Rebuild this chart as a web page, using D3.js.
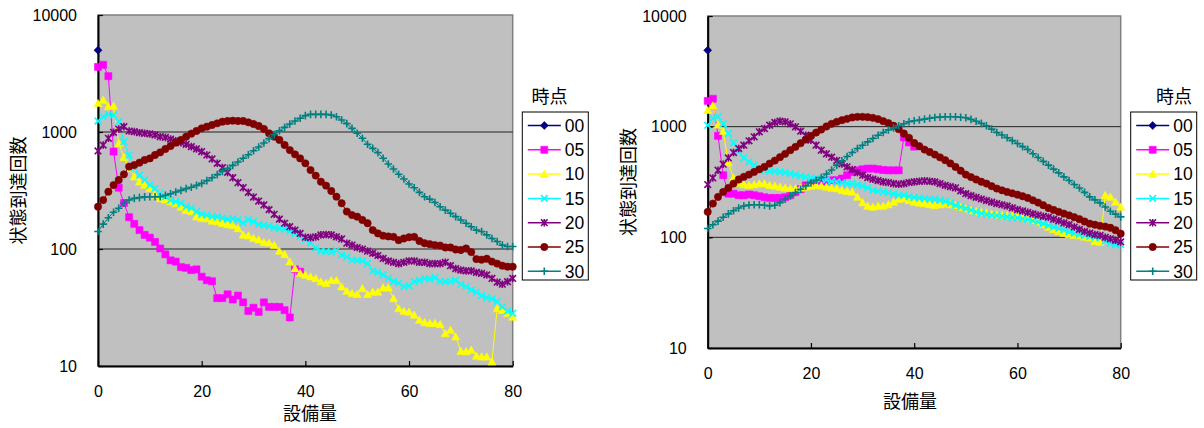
<!DOCTYPE html>
<html>
<head>
<meta charset="utf-8">
<script src="https://cdn.jsdelivr.net/npm/d3@7"></script>
<style>
body { margin: 0; background: #fff; }
svg text { font-family: "Liberation Sans", Arial, sans-serif; fill: #000; }
svg text.jp { font-family: "Noto Sans CJK JP", sans-serif; }
</style>
</head>
<body>
<svg id="chart" width="1204" height="428"></svg>
<script>
// 系列の定義
const seriesNames = ["00", "05", "10", "15", "20", "25", "30"];
const seriesColors = ["#000080", "#FF00FF", "#FFFF00", "#00FFFF", "#800080", "#800000", "#008080"];
const seriesShapes = ["diamond", "square", "triangle", "x", "star", "circle", "plus"];
const yTickValues = [10, 100, 1000, 10000];
const xTickValues = [0, 20, 40, 60, 80];
const legendTitle = "時点";
const xTitle = "設備量";
const yTitle = "状態到達回数";

// 左のグラフ (設備量 0..80)
const left00 = [5000];
const left05 = [3600, 3750, 3000, 680, 334, 247, 187, 164, 145, 132, 125, 115, 101, 90, 80, 78, 70, 69, 66, 67,
    58, 54, 53, 38, 38, 41, 37, 40, 35, 29.5, 31.5, 29, 35, 32, 32, 32, 30, 26, 67, 64];
const left10 = [1760, 1880, 1650, 1670, 800, 610, 490, 415, 376, 352, 330, 290, 270, 264, 254, 245, 229, 215, 209, 189,
    183, 182, 174, 172, 166, 162, 160, 150, 132, 130, 124, 120, 114, 113, 108, 96, 90, 78, 68, 62,
    60, 58, 56, 52.6, 51, 54, 54, 47.6, 43.8, 41.8, 41, 46, 41, 43, 43, 46.7, 46.7, 37.8, 31, 29.5,
    29, 27.3, 24.7, 23.6, 23.2, 23.2, 22.7, 19, 20.3, 17.8, 13.4, 13.3, 13.7, 12.2, 12, 12, 10.9, 31, 30, 28.2, 26.3];
const left15 = [1240, 1350, 1413, 1400, 1225, 826, 635, 489, 428, 389, 352, 330, 299, 280, 262, 254, 246, 230, 223, 209,
    198, 195, 189, 189, 184, 180, 182, 177, 167, 178, 171, 162, 160, 157, 152, 150, 148, 142, 136, 128,
    120, 112, 102, 96, 95, 94, 97.5, 89, 85.5, 80.5, 80, 79, 75, 65, 63, 60, 56, 53, 51, 47.7,
    48.5, 52.6, 54, 56, 55.5, 57, 53, 52.6, 53, 54, 50, 47.7, 44.7, 42.7, 40, 38.5, 37.5, 35.5, 32, 29.5, 28.2];
const left20 = [689, 774, 883, 993, 1061, 1111, 1020, 1007, 986, 975, 962, 943, 912, 899, 871, 843, 811, 785, 750, 716,
    680, 636, 588, 540, 496, 452, 407, 369, 334, 305, 278, 257, 238, 217, 198, 180, 166, 155, 145, 136,
    126, 125, 127, 132, 133, 132, 127, 122, 112, 108, 103, 100, 96, 92, 88, 83, 79, 77, 75, 77,
    79, 79, 77, 77, 75, 75, 75, 77, 72, 68, 66, 65, 65, 63, 62, 60, 56, 52, 50, 52.6, 56];
const left25 = [230, 262, 309, 352, 389, 435, 506, 522, 547, 576, 595, 636, 670, 716, 759, 811, 855, 912, 968, 1020,
    1075, 1111, 1148, 1186, 1225, 1242, 1250, 1242, 1242, 1210, 1170, 1125, 1061, 975, 912, 855, 774, 701, 644, 595,
    540, 473, 424, 376, 348, 313, 280, 246, 209, 195, 189, 177, 166, 145, 136, 130, 128, 127, 119, 123,
    126, 127, 117, 112, 110, 108, 107, 103, 103, 99, 98, 101, 94, 82, 81, 82.5, 78, 75, 72, 70.6, 70.6];
const left30 = [141, 163, 185, 206, 223, 246, 262, 271, 275, 279, 280, 280, 280, 288, 297, 307, 317, 328, 337, 350,
    364, 384, 407, 432, 461, 489, 519, 554, 596, 640, 692, 744, 805, 877, 949, 1026, 1096, 1171, 1242, 1309,
    1380, 1415, 1415, 1415, 1415, 1396, 1352, 1267, 1179, 1075, 975, 883, 785, 725, 666, 596, 532, 483, 435, 397,
    359, 334, 305, 280, 267, 250, 230, 215, 202, 189, 177, 166, 155, 145, 141, 132, 123, 116, 108, 105, 105];

// 右のグラフ
const right00 = [4900];
const right05 = [1710, 1786, 826, 364, 248, 248, 240, 240, 244, 240, 235, 230, 227, 227, 227, 230, 240, 257, 272, 295,
    310, 317, 317, 321, 328, 328, 340, 364, 390, 403, 412, 418, 418, 412, 406, 403, 403, 403, 800, 720, 660];
const right10 = [1410, 1545, 1040, 910, 474, 344, 310, 300, 296, 300, 306, 306, 296, 292, 286, 280, 276, 276, 280, 286,
    292, 296, 292, 286, 280, 276, 266, 261, 257, 232, 206, 192, 188, 192, 192, 198, 209, 221, 224, 216,
    209, 205, 202, 198, 195, 198, 202, 198, 195, 188, 182, 176, 172, 169, 167, 163, 160, 159, 158, 157,
    156, 152, 148, 143, 138, 131, 124, 118, 113, 109, 106, 105, 104, 101, 99, 92, 91, 240, 232, 209, 188];
const right15 = [1032, 1190, 1230, 1060, 870, 715, 592, 522, 481, 449, 418, 401, 396, 396, 390, 385, 377, 369, 359, 352,
    344, 340, 340, 331, 321, 317, 313, 306, 306, 300, 292, 280, 266, 261, 257, 254, 247, 240, 240, 233,
    228, 226, 224, 222, 221, 216, 212, 204, 195, 188, 182, 176, 170, 165, 161, 159, 158, 155, 153, 151,
    150, 147, 145, 141, 138, 133, 128, 124, 120, 116, 112, 109, 106, 104, 102, 100, 99, 93, 88, 86, 86];
const right20 = [300, 344, 404, 458, 522, 584, 634, 680, 745, 809, 898, 962, 1032, 1091, 1122, 1107, 1061, 996, 910, 837,
    755, 680, 613, 568, 530, 494, 461, 434, 410, 385, 364, 347, 335, 326, 317, 313, 306, 302, 306, 313,
    317, 321, 324, 321, 317, 306, 295, 287, 280, 263, 248, 238, 230, 222, 215, 208, 202, 197, 192, 185,
    178, 173, 168, 163, 159, 155, 152, 146, 141, 135, 130, 124, 118, 113, 109, 106, 104, 100, 97, 94, 91];
const right25 = [170, 202, 232, 257, 279, 306, 333, 352, 369, 390, 412, 433, 464, 494, 530, 568, 613, 657, 709, 765,
    826, 885, 942, 1004, 1061, 1107, 1145, 1178, 1211, 1228, 1228, 1219, 1202, 1170, 1122, 1077, 1019, 949, 867, 793,
    712, 665, 621, 590, 560, 528, 498, 465, 433, 400, 369, 350, 333, 318, 306, 290, 276, 266, 257, 250,
    243, 235, 227, 216, 206, 195, 184, 177, 170, 164, 158, 152, 146, 139, 133, 130, 127, 125, 122, 116, 108];
const right30 = [120, 130, 140, 152, 163, 174, 184, 192, 196, 197, 197, 195, 192, 195, 206, 221, 237, 254, 272, 292,
    310, 328, 347, 374, 406, 449, 491, 537, 584, 634, 680, 729, 782, 837, 885, 936, 975, 1019, 1061, 1107,
    1130, 1150, 1170, 1190, 1211, 1220, 1228, 1230, 1228, 1218, 1202, 1165, 1121, 1070, 1019, 950, 885, 840, 793, 748,
    704, 660, 621, 570, 526, 486, 449, 413, 382, 352, 326, 300, 279, 255, 232, 218, 205, 188, 172, 162, 153];

const panels = [
    {
        series: [left00, left05, left10, left15, left20, left25, left30],
        left: 98, right: 512.7, top: 15, bottom: 366,
        yTitleX: 19, xTitleY: 414, xTitleX: 310,
        legendX: 522.3, legendTitleX: 549.5
    },
    {
        series: [right00, right05, right10, right15, right20, right25, right30],
        left: 707.7, right: 1120.7, top: 16, bottom: 348,
        yTitleX: 628.5, xTitleY: 401.5, xTitleX: 910,
        legendX: 1130.7, legendTitleX: 1174
    }
];

function markerPath(shape) {
    switch (shape) {
        case "diamond": return "M0,-4L4,0L0,4L-4,0Z";
        case "square": return "M-3.5,-3.5H3.5V3.5H-3.5Z";
        case "triangle": return "M0,-3.9L4,3.3L-4,3.3Z";
        case "circle": return d3.symbol(d3.symbolCircle, 42)();
        case "x": return "M-3.3,-3.3L3.3,3.3M-3.3,3.3L3.3,-3.3";
        case "star": return "M-3.3,-3.3L3.3,3.3M-3.3,3.3L3.3,-3.3M0,-3.8L0,3.8";
        case "plus": return "M-3.8,0L3.8,0M0,-3.8L0,3.8";
    }
}

function drawMarker(g, shape, color, x, y) {
    const filled = ["diamond", "square", "triangle", "circle"].includes(shape);
    g.append("path")
        .attr("transform", `translate(${x},${y})`)
        .attr("d", markerPath(shape))
        .attr("fill", filled ? color : "none")
        .attr("stroke", color)
        .attr("stroke-width", filled ? 0.6 : 1.6);
}

function drawPanel(svg, p) {
    const x = d3.scaleLinear().domain([0, 80]).range([p.left, p.right]);
    const y = d3.scaleLog().domain([10, 10000]).range([p.bottom, p.top]);

    // 背景
    svg.append("rect")
        .attr("x", p.left).attr("y", p.top)
        .attr("width", p.right - p.left).attr("height", p.bottom - p.top)
        .attr("fill", "#C0C0C0")
        .attr("stroke", "#808080")
        .attr("stroke-width", 1.5);

    // 目盛線
    svg.selectAll(null)
        .data([100, 1000])
        .enter()
        .append("line")
        .attr("x1", p.left).attr("x2", p.right)
        .attr("y1", d => y(d)).attr("y2", d => y(d))
        .attr("stroke", "#222")
        .attr("stroke-width", 1);

    // 軸
    const yAxis = d3.axisLeft(y).tickValues(yTickValues).tickFormat(d3.format("d")).tickSizeInner(-5).tickSizeOuter(0).tickPadding(21);
    const gy = svg.append("g").attr("transform", `translate(${p.left},0)`).call(yAxis);
    const xAxis = d3.axisBottom(x).tickValues(xTickValues).tickSizeInner(-5).tickSizeOuter(0).tickPadding(20);
    const gx = svg.append("g").attr("transform", `translate(0,${p.bottom})`).call(xAxis);
    [gx, gy].forEach(g => {
        g.select(".domain").attr("stroke", "#000").attr("stroke-width", 2);
        g.selectAll(".tick line").attr("stroke", "#000").attr("stroke-width", 1.2);
        g.selectAll(".tick text").attr("font-size", 16).attr("font-family", "'Liberation Sans', Arial, sans-serif").attr("fill", "#000");
    });

    // 系列
    const line = d3.line().x((d, i) => x(i)).y(d => y(d));
    p.series.forEach((values, k) => {
        const g = svg.append("g");
        g.append("path")
            .attr("d", line(values))
            .attr("fill", "none")
            .attr("stroke", seriesColors[k])
            .attr("stroke-width", 1);
        values.forEach((v, i) => drawMarker(g, seriesShapes[k], seriesColors[k], x(i), y(v)));
    });

    // 軸ラベル
    svg.append("text")
        .attr("class", "jp")
        .attr("x", p.xTitleX).attr("y", p.xTitleY)
        .attr("dy", "0.35em")
        .attr("text-anchor", "middle")
        .attr("font-size", 18)
        .text(xTitle);
    svg.append("text")
        .attr("class", "jp")
        .attr("transform", `translate(${p.yTitleX},${(p.top + p.bottom) / 2}) rotate(-90)`)
        .attr("dy", "0.35em")
        .attr("text-anchor", "middle")
        .attr("font-size", 18)
        .text(yTitle);

    // 凡例
    svg.append("text")
        .attr("class", "jp")
        .attr("x", p.legendTitleX).attr("y", 96.5)
        .attr("dy", "0.35em")
        .attr("text-anchor", "middle")
        .attr("font-size", 18)
        .text(legendTitle);
    svg.append("rect")
        .attr("x", p.legendX).attr("y", 112)
        .attr("width", 66).attr("height", 168)
        .attr("fill", "#fff")
        .attr("stroke", "#000")
        .attr("stroke-width", 1);
    seriesNames.forEach((name, k) => {
        const ly = 125.5 + k * 24.3;
        const g = svg.append("g");
        g.append("line")
            .attr("x1", p.legendX + 5.5).attr("x2", p.legendX + 38.5)
            .attr("y1", ly).attr("y2", ly)
            .attr("stroke", seriesColors[k])
            .attr("stroke-width", 1.5);
        drawMarker(g, seriesShapes[k], seriesColors[k], p.legendX + 22, ly);
        g.append("text")
            .attr("x", p.legendX + 42.5).attr("y", ly)
            .attr("dy", "0.36em")
            .attr("font-size", 17.5)
            .text(name);
    });
}

const svg = d3.select("#chart");
panels.forEach(p => drawPanel(svg, p));
</script>
</body>
</html>
